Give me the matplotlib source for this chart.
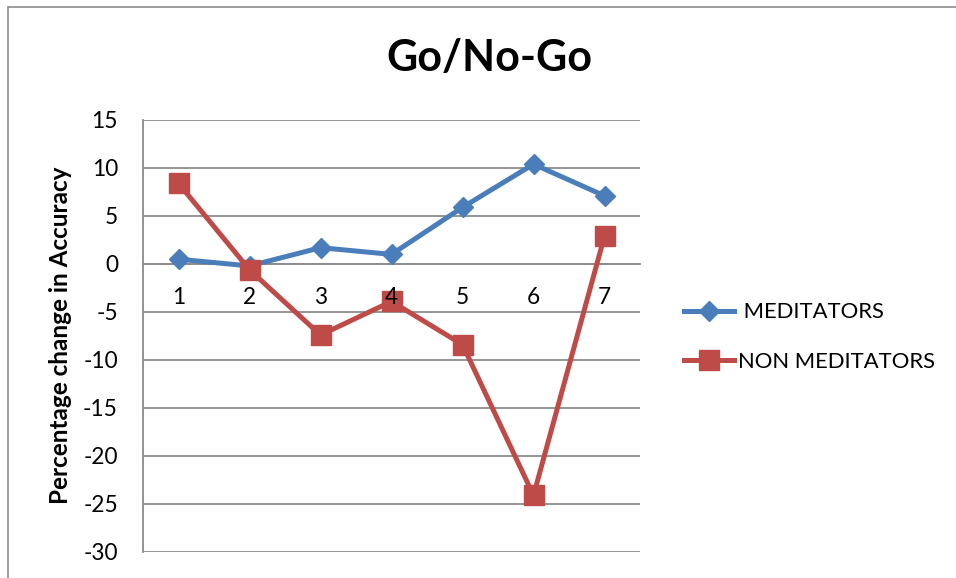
import matplotlib
matplotlib.use('Agg')
import matplotlib.pyplot as plt
from matplotlib.patches import Rectangle

plt.rcParams['font.family'] = ['Lato', 'DejaVu Sans']

sessions = ['1', '2', '3', '4', '5', '6', '7']
meditators = [0.5, -0.2, 1.7, 1.0, 5.9, 10.4, 7.1]
non_meditators = [8.4, -0.6, -7.4, -3.9, -8.4, -24.1, 2.9]

blue = '#4a7ebb'
red = '#be4b48'
grid_col = '#8c8c8c'

fig = plt.figure(figsize=(9.56, 5.78), dpi=100)
# outer chart frame
fig.patches.append(Rectangle((8/956, -0.1), 1.2, 1 - 7/578 + 0.1, transform=fig.transFigure,
                             fill=False, edgecolor='#8c8c8c', linewidth=1.2))

ax = fig.add_axes([143/956, 1 - 552/578, (640 - 143)/956, (552 - 120)/578])
x = [i + 0.5 for i in range(len(sessions))]

ax.plot(x, meditators, color=blue, lw=3.6, marker='D', markersize=10.5, label=' MEDITATORS', zorder=3)
ax.plot(x, non_meditators, color=red, lw=3.6, marker='s', markersize=14, label='NON MEDITATORS', zorder=3)

ax.spines['bottom'].set_position(('data', 0))
ax.spines['bottom'].set_color(grid_col)
ax.spines['bottom'].set_linewidth(1.3)
ax.spines['left'].set_color(grid_col)
ax.spines['left'].set_linewidth(1.3)
ax.spines['top'].set_visible(False)
ax.spines['right'].set_visible(False)

ax.set_xlim(0, 7)
ax.set_ylim(-30, 15)
ax.set_yticks(range(-30, 16, 5))
ax.set_yticklabels([str(v) for v in range(-30, 16, 5)])
ax.set_xticks(x)
ax.set_xticklabels([])
ax.tick_params(axis='x', length=0)
ax.tick_params(axis='y', length=0, pad=18, labelsize=16.3)

# category labels sit just below the zero line, on top of the markers
for xi, s in zip(x, sessions):
    ax.annotate(s, (xi, 0), xytext=(0, -34), textcoords='offset pixels',
                ha='center', va='center', fontsize=16.3, zorder=5)

ax.yaxis.grid(True, color=grid_col, lw=1.3)
ax.set_axisbelow(True)

fig.text(61/956, 1 - 335/578, 'Percentage change in Accuracy', fontsize=17.5, fontweight='bold',
         rotation=90, ha='center', va='center')
fig.text(489/956, 1 - 58/578, 'Go/No-Go', fontsize=31, fontweight='bold', ha='center', va='center')

ax.legend(loc='center left', bbox_to_anchor=(664/956, 1 - 337/578), bbox_transform=fig.transFigure,
          frameon=False, fontsize=15.8, handlelength=2.3, labelspacing=1.35, handletextpad=0.15)

fig.savefig('out.png', dpi=100)
